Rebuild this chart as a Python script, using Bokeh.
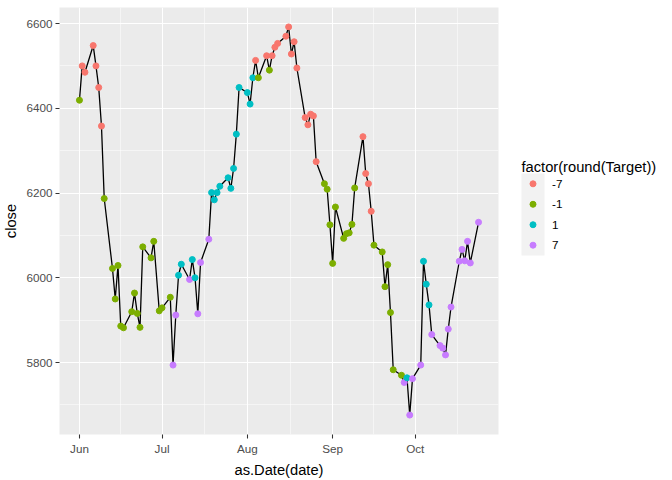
import numpy as np
import pandas as pd
from bokeh.plotting import figure
from bokeh.models import ColumnDataSource, Range1d, FixedTicker, DatetimeTickFormatter
from bokeh.layouts import row
from bokeh.core.properties import value
from bokeh.embed import file_html
from bokeh.resources import INLINE

dates = ["2016-06-01", "2016-06-02", "2016-06-03", "2016-06-06", "2016-06-07", "2016-06-08",
         "2016-06-09", "2016-06-10", "2016-06-13", "2016-06-14", "2016-06-15", "2016-06-16",
         "2016-06-17", "2016-06-20", "2016-06-21", "2016-06-22", "2016-06-23", "2016-06-24",
         "2016-06-27", "2016-06-28", "2016-06-30", "2016-07-01", "2016-07-04", "2016-07-05",
         "2016-07-06", "2016-07-07", "2016-07-08", "2016-07-11", "2016-07-12", "2016-07-13",
         "2016-07-14", "2016-07-15", "2016-07-18", "2016-07-19", "2016-07-20", "2016-07-21",
         "2016-07-22", "2016-07-25", "2016-07-26", "2016-07-27", "2016-07-28", "2016-07-29",
         "2016-08-01", "2016-08-02", "2016-08-03", "2016-08-04", "2016-08-05", "2016-08-08",
         "2016-08-09", "2016-08-10", "2016-08-11", "2016-08-12", "2016-08-15", "2016-08-16",
         "2016-08-17", "2016-08-18", "2016-08-19", "2016-08-22", "2016-08-23", "2016-08-24",
         "2016-08-25", "2016-08-26", "2016-08-29", "2016-08-30", "2016-08-31", "2016-09-01",
         "2016-09-02", "2016-09-05", "2016-09-06", "2016-09-07", "2016-09-08", "2016-09-09",
         "2016-09-12", "2016-09-13", "2016-09-14", "2016-09-15", "2016-09-16", "2016-09-19",
         "2016-09-20", "2016-09-21", "2016-09-22", "2016-09-23", "2016-09-26", "2016-09-27",
         "2016-09-28", "2016-09-29", "2016-09-30", "2016-10-03", "2016-10-04", "2016-10-05",
         "2016-10-06", "2016-10-07", "2016-10-10", "2016-10-11", "2016-10-12", "2016-10-13",
         "2016-10-14", "2016-10-17", "2016-10-18", "2016-10-19", "2016-10-20", "2016-10-21",
         "2016-10-24"]

close = [6419, 6500, 6485, 6548, 6500, 6449,
         6358, 6187, 6022, 5950, 6029, 5886,
         5882, 5920, 5964, 5916, 5883, 6073,
         6047, 6086, 5922, 5929, 5954, 5794,
         5912, 6006, 6032, 5996, 6043, 6000,
         5915, 6036, 6091, 6201, 6184, 6201,
         6216, 6236, 6211, 6258, 6339, 6449,
         6437, 6410, 6472, 6513, 6472, 6524,
         6490, 6524, 6544, 6553, 6570, 6592,
         6528, 6557, 6495, 6378, 6361, 6386,
         6382, 6274, 6222, 6209, 6125, 6034,
         6167, 6093, 6104, 6106, 6126, 6212,
         6333, 6246, 6222, 6157, 6077, 6061,
         5979, 6031, 5918, 5783, 5770, 5753,
         5764, 5676, 5762, 5794, 6039, 5985,
         5936, 5866, 5840, 5834, 5818, 5879,
         5931, 6039, 6067, 6040, 6086, 6035,
         6131]

target = [-1, -7, -7, -7, -7, -7,
          -7, -1, -1, -1, -1, -1,
          -1, -1, -1, -1, -1, -1,
          -1, -1, -1, -1, -1, 7,
          7, 1, 1, 7, 1, 1,
          7, 7, 7, 1, 1, 1,
          1, 1, 1, 1, 1, 1,
          1, 1, 1, -7, -1, -7,
          -1, -7, -7, -7, -7, -7,
          -7, -7, -7, -7, -7, -7,
          -7, -7, -1, -1, -1, -1,
          -1, -1, -1, -1, -1, -1,
          -7, -7, -7, -7, -1, -1,
          -1, -1, -1, -1, -1, 7,
          1, 7, 7, 7, 1, 1,
          1, 7, 7, 7, 7, 7,
          7, 7, 7, 7, 7, 7,
          7]

levels = ["-7", "-1", "1", "7"]
level_colors = ["#F8766D", "#7CAE00", "#00BFC4", "#C77CFF"]

x_month_breaks = ["2016-06-01", "2016-07-01", "2016-08-01", "2016-09-01", "2016-10-01", "2016-11-01"]
y_breaks = [5800, 6000, 6200, 6400, 6600]
y_minor = [5700, 5900, 6100, 6300, 6500]

FONT = "Liberation Sans"

dt = pd.to_datetime(dates)
cmap = dict(zip(levels, level_colors))
src = ColumnDataSource(dict(
    date=dt,
    close=close,
    col=[cmap[str(t)] for t in target],
))

def ms(ts):
    return pd.Timestamp(ts).value / 1e6

# ggplot-like expansion (5%)
xmin, xmax = ms(dt.min()), ms(dt.max())
xpad = (xmax - xmin) * 0.05
ymin, ymax = min(close), max(close)
ypad = (ymax - ymin) * 0.05

mb = [ms(d) for d in x_month_breaks]
x_major = mb[:-1]
x_minor = [(a + b) / 2 for a, b in zip(mb[:-1], mb[1:])]

p = figure(width=520, height=480, x_axis_type="datetime",
           x_range=Range1d(xmin - xpad, xmax + xpad),
           y_range=Range1d(ymin - ypad, ymax + ypad),
           output_backend="svg", toolbar_location=None,
           min_border_left=57, min_border_right=22, min_border_top=7, min_border_bottom=42,
           background_fill_color="#EBEBEB", border_fill_color="white",
           outline_line_color=None)

p.xaxis.ticker = FixedTicker(ticks=x_major, minor_ticks=x_minor)
p.yaxis.ticker = FixedTicker(ticks=y_breaks, minor_ticks=y_minor)
p.xaxis.formatter = DatetimeTickFormatter(
    milliseconds="%b", seconds="%b", minsec="%b", minutes="%b", hourmin="%b",
    hours="%b", days="%b", months="%b", years="%b")

for ax in (p.xaxis, p.yaxis):
    ax.axis_line_color = None
    ax.major_tick_line_color = "#333333"
    ax.major_tick_line_width = 1.07
    ax.major_tick_out = 4
    ax.major_tick_in = 0
    ax.minor_tick_out = 0
    ax.minor_tick_in = 0
    ax.major_label_text_font = FONT
    ax.major_label_text_font_size = "11.7px"
    ax.major_label_text_color = "#4D4D4D"
    ax.major_label_standoff = 3
    ax.axis_label_text_font = FONT
    ax.axis_label_text_font_size = "14.7px"
    ax.axis_label_text_font_style = "normal"
    ax.axis_label_text_color = "black"
    ax.axis_label_standoff = 4

p.xaxis.axis_label = "as.Date(date)"
p.yaxis.axis_label = "close"

p.grid.grid_line_color = "white"
p.grid.grid_line_width = 1.07
p.grid.minor_grid_line_color = "white"
p.grid.minor_grid_line_width = 0.53

p.line(x="date", y="close", source=src, line_color="black", line_width=1.3)
p.scatter(x="date", y="close", source=src, size=6, fill_color="col", line_color="col")

# legend panel (ggplot-style guide)
lf = figure(width=152, height=480, x_range=Range1d(0, 152), y_range=Range1d(480, 0),
            output_backend="svg", toolbar_location=None,
            x_axis_location=None, y_axis_location=None,
            min_border=0, outline_line_color=None,
            background_fill_color="white", border_fill_color="white")
lf.grid.visible = False

key_top = 186.7
key_h = 23.0
n = len(levels)
key_y = [key_top + key_h * (i + 0.5) for i in range(n)]
lf.quad(left=1, right=24, top=key_top, bottom=key_top + key_h * n,
        fill_color="#F2F2F2", line_color=None)
lf.scatter(x=[12.5] * n, y=key_y, size=6, fill_color=level_colors, line_color=level_colors)
lf.text(x=[31.5] * n, y=key_y, text=levels, text_baseline="middle", text_align="left",
        text_font=value(FONT), text_font_size="11.7px", text_color="black")
lf.text(x=[1], y=[179.5], text=["factor(round(Target))"], text_baseline="alphabetic",
        text_align="left", text_font=value(FONT), text_font_size="14.7px", text_color="black")

layout = row(p, lf)
open("out.html", "w").write(file_html(layout, INLINE))
